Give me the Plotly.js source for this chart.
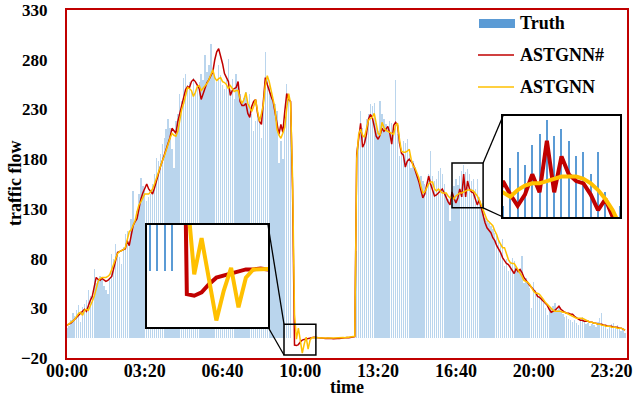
<!DOCTYPE html>
<html><head><meta charset="utf-8">
<script src="https://cdn.plot.ly/plotly-3.0.1.min.js"></script>
<style>html,body{margin:0;padding:0;background:#fff}#chart{width:634px;height:400px}</style>
</head><body><div id="chart"></div>
<script>
// ---------------- data ----------------
const stepMinutes = 5;
const tickMinutes = [0, 200, 400, 600, 800, 1000, 1200, 1400];
const tickLabels = ['00:00', '03:20', '06:40', '10:00', '13:20', '16:40', '20:00', '23:20'];
const yTicks = [-20, 30, 80, 130, 180, 230, 280, 330];
const seriesNames = ['Truth', 'ASTGNN#', 'ASTGNN'];

const truth = [
10,12,18,25,22,28,33,16,31,34,
38,48,42,45,70,55,58,62,60,52,
48,44,60,85,80,95,88,82,75,92,
105,108,98,120,148,118,128,145,161,153,
148,138,142,145,155,165,181,178,185,195,
201,210,220,211,190,171,218,225,246,238,
262,266,255,258,250,262,248,255,258,266,
260,285,268,275,296,270,265,258,275,265,
255,251,260,281,250,261,240,266,255,246,
238,241,248,235,246,225,208,218,230,222,
201,240,288,262,256,248,240,235,228,176,
198,180,215,256,240,232,0,0,0,0,
0,0,0,0,0,0,0,0,0,0,
0,0,0,0,0,0,0,0,0,0,
0,0,0,0,0,0,0,0,0,88,
195,228,211,205,220,225,235,233,236,216,
208,238,225,220,215,210,218,216,211,260,
205,183,190,198,196,200,185,171,178,172,
166,160,163,158,155,150,165,188,163,158,
160,168,171,165,155,146,140,118,136,153,
160,154,163,168,174,167,170,165,158,160,
150,160,142,130,136,121,118,116,113,110,
106,103,100,96,100,73,80,68,76,81,
78,72,66,70,83,55,60,56,50,30,
56,48,45,43,41,35,30,23,28,30,
32,35,28,30,26,24,21,22,19,18,
16,18,15,13,17,21,16,14,15,12,
14,13,11,16,20,25,13,11,9,12,
14,15,12,13,11,7,9,5
];

const astgnnSharp = [
13,14,15,17,19,21,23,25,28,29,
27,33,38,42,50,61,59,58,60,58,
57,58,60,62,70,78,86,87,88,89,
90,98,93,103,113,117,120,130,140,146,
151,155,150,147,145,151,157,165,172,178,
185,191,196,202,211,208,206,218,226,236,
242,250,253,252,258,260,258,255,251,240,
246,253,257,260,264,268,280,288,291,284,
276,266,262,258,244,249,251,252,258,238,
234,234,236,226,222,233,238,240,226,218,
215,236,262,255,248,243,238,226,214,205,
215,207,228,246,240,238,150,-7,-7.5,-6.5,
-4,-2,-1.3,-0.7,0,0.5,0.5,0.8,0.5,0.3,
0,-0.3,-0.5,-0.4,-0.2,0,-0.3,-0.6,-0.8,-0.5,
-0.3,0,0.2,0.4,0.5,0.3,0.6,0.9,1.5,185,
200,216,192,196,205,220,225,222,213,203,
200,204,211,208,210,213,206,195,214,217,
214,196,186,184,172,178,180,177,175,169,
164,157,149,141,145,153,163,155,150,143,
144,146,149,150,146,141,137,134,147,141,
136,141,150,142,165,142,158,150,147,146,
141,134,139,131,123,116,111,109,106,101,
98,93,90,86,81,78,75,74,71,67,
65,70,67,69,66,61,58,55,53,51,
49,46,42,41,39,37,35,33,29,26,
27,28,30,32,29,27,26,25,25,24,
24,22,20,19,18,18,17,17,17,16,
16,15,15,14,14,14,13,13,12,12,
12,11,11,11,10,10,9,8
];

const astgnn = [
13,14,16,17,19,22,25,26,23,28,
29,28,32,37,42,50,57,60,61,61,
61,62,64,69,74,80,85,87,88,89,
91,100,107,109,113,118,127,134,137,141,
145,145,145,147,150,155,161,168,172,178,
183,190,195,201,206,204,203,208,218,230,
236,244,252,251,249,243,247,253,254,249,
251,253,256,260,266,270,262,259,261,262,
258,257,255,251,254,251,248,249,249,241,
236,240,247,236,231,228,233,240,228,218,
226,235,255,264,258,250,240,230,210,204,
201,206,212,231,246,236,160,24,-1,10,
-3,-15,-6,1,-11,-2,0.5,0.6,0.5,0.6,
0.4,0.2,0.3,0.5,0.6,0.4,0.2,0.1,0.3,0.5,
0.6,0.7,0.5,0.4,0.6,0.8,1,1.2,1.8,180,
205,210,204,202,210,219,221,222,226,215,
206,204,217,212,209,208,207,206,205,214,
216,200,188,187,187,188,190,180,173,171,
166,161,153,146,147,151,155,157,157,150,
148,150,148,146,146,146,143,141,142,140,
143,145,146,146,147,148,149,149,149,148,
146,143,139,134,127,123,119,117,115,113,
108,104,98,94,91,91,84,79,76,75,
75,72,69,66,62,58,57,56,54,50,
47,45,45,44,42,39,36,34,31,29,
28,27,27,27,27,26,26,25,24,23,
22,21,20,20,20,20,19,18,17,16,
16,15,15,14,14,13,13,12,12,12,
11,11,11,10,10,10,9,8
];

// ---------------- layout helpers ----------------
const minutes = truth.map((_, i) => i * stepMinutes);
const W = 634, H = 400, ML = 67, MR = 7, MT = 10, MB = 42;
const PW = W - ML - MR, PH = H - MT - MB;
const X_RANGE = [0, 1440], Y_RANGE = [-20, 330];
const FONT = 'Liberation Serif, Times New Roman, serif';
const BLUE = '#5b9bd5', RED = '#c00000', GOLD = '#ffc000';
const px2pX = px => (px - ML) / PW;
const px2pY = py => (H - MB - py) / PH;
const d2pX = m => (m - X_RANGE[0]) / (X_RANGE[1] - X_RANGE[0]);
const d2pY = v => (v - Y_RANGE[0]) / (Y_RANGE[1] - Y_RANGE[0]);
const boldFont = {family: FONT, size: 18, color: '#000', weight: 'bold'};
const yTickFont = {family: FONT, size: 17, color: '#000', weight: 'bold'};

// inset boxes (pixel boxes) and the data windows they magnify
const insets = [
  {box: [147, 225, 268, 327], win: {x: [558, 640], y: [-17, 14]}, side: 'right'},
  {box: [503, 116, 620, 217], win: {x: [990, 1070], y: [131, 176]}, side: 'left'}
];

const traces = [];
const layout = {
  width: W, height: H,
  margin: {l: ML, r: MR, t: MT, b: MB, pad: 0},
  paper_bgcolor: '#ffffff', plot_bgcolor: 'white',
  showlegend: false, hovermode: false, bargap: 0,
  font: {family: FONT, color: '#000'},
  xaxis: {
    range: X_RANGE, tickmode: 'array', tickvals: tickMinutes, ticktext: tickLabels,
    showgrid: false, zeroline: false, showline: true, mirror: true,
    linecolor: RED, linewidth: 2, ticks: '', ticklabelstandoff: -5, ticklabeloverflow: 'allow',
    tickfont: boldFont,
    title: {text: ''}
  },
  yaxis: {
    range: Y_RANGE, tickmode: 'array', tickvals: yTicks,
    showgrid: false, zeroline: false, showline: true, mirror: true,
    linecolor: RED, linewidth: 2, ticks: '', ticklabelstandoff: 14, ticklabeloverflow: 'allow',
    tickfont: yTickFont,
    title: {text: ''}
  },
  shapes: [], annotations: []
};

// axis titles
layout.annotations.push({xref: 'paper', yref: 'paper', x: px2pX(15), y: 0.5, xanchor: 'center', yanchor: 'middle',
  textangle: -90, showarrow: false, text: 'traffic flow', font: boldFont});
layout.annotations.push({xref: 'paper', yref: 'paper', x: 0.5, y: px2pY(387), xanchor: 'center', yanchor: 'middle',
  showarrow: false, text: 'time', font: boldFont});

// main chart
traces.push({type: 'bar', x: minutes, y: truth, name: seriesNames[0], width: 3.5,
  marker: {color: 'rgba(91,155,213,0.42)', line: {width: 0}}, xaxis: 'x', yaxis: 'y'});
traces.push({type: 'scatter', mode: 'lines', x: minutes, y: astgnnSharp, name: seriesNames[1],
  line: {color: RED, width: 1.5}, xaxis: 'x', yaxis: 'y'});
traces.push({type: 'scatter', mode: 'lines', x: minutes, y: astgnn, name: seriesNames[2],
  line: {color: GOLD, width: 1.5}, xaxis: 'x', yaxis: 'y'});

// insets
insets.forEach((ins, k) => {
  const n = k + 2, xa = 'x' + n, ya = 'y' + n;
  const [bx0, by0, bx1, by1] = ins.box;
  const axBase = {showticklabels: false, ticks: '', showgrid: false, zeroline: false,
    showline: true, mirror: true, linecolor: '#000', linewidth: 2, fixedrange: true};
  layout['xaxis' + n] = Object.assign({}, axBase, {domain: [px2pX(bx0), px2pX(bx1)], range: ins.win.x, anchor: ya});
  layout['yaxis' + n] = Object.assign({}, axBase, {domain: [px2pY(by1), px2pY(by0)], range: ins.win.y, anchor: xa});
  layout.shapes.push({type: 'rect', xref: xa, yref: ya, x0: ins.win.x[0], x1: ins.win.x[1],
    y0: ins.win.y[0], y1: ins.win.y[1], fillcolor: '#ffffff', line: {width: 0}, layer: 'below'});
  traces.push({type: 'bar', x: minutes, y: truth, name: seriesNames[0], width: 0.7,
    marker: {color: BLUE, line: {width: 0}}, xaxis: xa, yaxis: ya, showlegend: false});
  traces.push({type: 'scatter', mode: 'lines', x: minutes, y: astgnnSharp, name: seriesNames[1],
    line: {color: RED, width: 4}, xaxis: xa, yaxis: ya, showlegend: false});
  traces.push({type: 'scatter', mode: 'lines', x: minutes, y: astgnn, name: seriesNames[2],
    line: {color: GOLD, width: 4}, xaxis: xa, yaxis: ya, showlegend: false});
  // small box on main chart
  layout.shapes.push({type: 'rect', xref: 'x', yref: 'y', x0: ins.win.x[0], x1: ins.win.x[1],
    y0: ins.win.y[0], y1: ins.win.y[1], line: {color: '#000', width: 1.5}, layer: 'above'});
  // connector lines
  const wx = ins.side === 'right' ? d2pX(ins.win.x[0]) : d2pX(ins.win.x[1]);
  const ix = ins.side === 'right' ? px2pX(bx1) : px2pX(bx0);
  layout.shapes.push({type: 'line', xref: 'paper', yref: 'paper', x0: ix, y0: px2pY(by0), x1: wx, y1: d2pY(ins.win.y[1]),
    line: {color: '#000', width: 1.3}, layer: 'above'});
  layout.shapes.push({type: 'line', xref: 'paper', yref: 'paper', x0: ix, y0: px2pY(by1), x1: wx, y1: d2pY(ins.win.y[0]),
    line: {color: '#000', width: 1.3}, layer: 'above'});
});

// legend (drawn in paper space)
const legendRows = [23, 55, 87];
layout.shapes.push({type: 'rect', xref: 'paper', yref: 'paper', x0: px2pX(479), x1: px2pX(515),
  y0: px2pY(28), y1: px2pY(19), fillcolor: BLUE, line: {width: 0}, layer: 'above'});
layout.shapes.push({type: 'line', xref: 'paper', yref: 'paper', x0: px2pX(478), x1: px2pX(514),
  y0: px2pY(legendRows[1]), y1: px2pY(legendRows[1]), line: {color: RED, width: 1.5}, layer: 'above'});
layout.shapes.push({type: 'line', xref: 'paper', yref: 'paper', x0: px2pX(478), x1: px2pX(514),
  y0: px2pY(legendRows[2]), y1: px2pY(legendRows[2]), line: {color: GOLD, width: 1.5}, layer: 'above'});
seriesNames.forEach((name, k) => {
  layout.annotations.push({xref: 'paper', yref: 'paper', x: px2pX(518), y: px2pY(legendRows[k]),
    xanchor: 'left', yanchor: 'middle', showarrow: false, text: name, font: boldFont});
});

Plotly.newPlot('chart', traces, layout, {displayModeBar: false, responsive: false});
</script>
</body></html>
